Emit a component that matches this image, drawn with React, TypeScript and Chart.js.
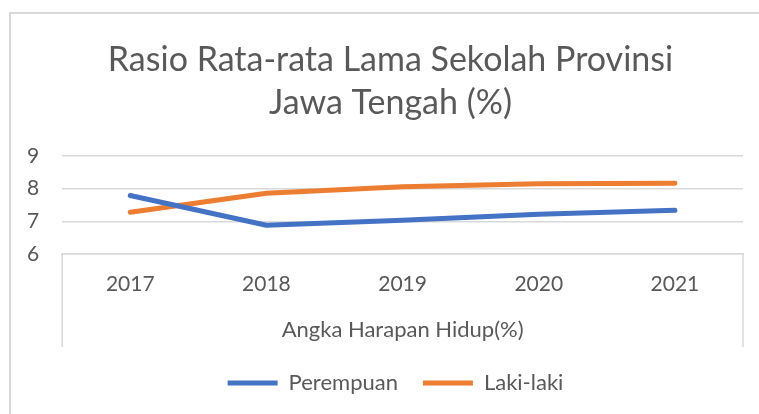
import React, { useEffect, useRef } from "react";
import { Chart, registerables } from "chart.js";

Chart.register(...registerables);

const categories = ["2017", "2018", "2019", "2020", "2021"];
const perempuan = [7.79, 6.88, 7.03, 7.22, 7.34];
const lakiLaki = [7.28, 7.86, 8.06, 8.15, 8.17];
const titleLines = ["Rasio Rata-rata Lama Sekolah Provinsi", "Jawa Tengah (%)"];
const xAxisTitle = "Angka Harapan Hidup(%)";

const FONT = "Lato";
const TEXT = "#595959";
const GRID = "#d9d9d9";

const framePlugin = {
  id: "frame",
  afterLayout(chart: any) {
    // Excel centres title and legend on the full (cropped) chart frame
    if (chart.titleBlock) {
      chart.titleBlock.left += 17;
      chart.titleBlock.right += 17;
    }
    if (chart.legend) {
      chart.legend.left += 22;
      chart.legend.right += 22;
    }
  },
  beforeDraw(chart: any) {
    const ctx = chart.ctx;
    ctx.save();
    ctx.fillStyle = "#ffffff";
    ctx.fillRect(0, 0, chart.width, chart.height);
    ctx.strokeStyle = GRID;
    ctx.lineWidth = 2;
    ctx.beginPath();
    ctx.moveTo(10, chart.height + 5);
    ctx.lineTo(10, 13);
    ctx.lineTo(chart.width + 5, 13);
    ctx.stroke();
    ctx.restore();
  },
  afterDraw(chart: any) {
    const ctx = chart.ctx;
    const area = chart.chartArea;
    const x = chart.scales.x;
    ctx.save();
    ctx.strokeStyle = GRID;
    ctx.lineWidth = 1.5;
    ctx.beginPath();
    ctx.moveTo(area.left, area.bottom);
    ctx.lineTo(area.left, x.bottom);
    ctx.moveTo(area.right, area.bottom);
    ctx.lineTo(area.right, x.bottom);
    ctx.stroke();
    ctx.restore();
  },
};

export default function App() {
  const ref = useRef<HTMLCanvasElement | null>(null);
  useEffect(() => {
    if (!ref.current) return;
    const chart = new Chart(ref.current, {
      type: "line",
      data: {
        labels: categories,
        datasets: [
          {
            label: "Perempuan",
            data: perempuan,
            borderColor: "#4472C4",
            backgroundColor: "#4472C4",
            borderWidth: 5,
            borderCapStyle: "round",
            borderJoinStyle: "round",
            pointRadius: 0,
            tension: 0,
          },
          {
            label: "Laki-laki",
            data: lakiLaki,
            borderColor: "#ED7D31",
            backgroundColor: "#ED7D31",
            borderWidth: 5,
            borderCapStyle: "round",
            borderJoinStyle: "round",
            pointRadius: 0,
            tension: 0,
          },
        ],
      },
      options: {
        animation: false,
        responsive: false,
        layout: { padding: { left: 4, right: 16, top: 0, bottom: 10 } },
        plugins: {
          title: {
            display: true,
            text: titleLines,
            color: TEXT,
            font: { family: FONT, size: 34, weight: "normal", lineHeight: 1.265 },
            padding: { top: 38.5, bottom: 31.5 },
          },
          legend: {
            position: "bottom",
            labels: {
              usePointStyle: true,
              pointStyle: "line",
              pointStyleWidth: 50,
              color: TEXT,
              padding: 25,
              font: { family: FONT, size: 22 },
            },
          },
          tooltip: { enabled: false },
        },
        scales: {
          y: {
            min: 6,
            max: 9,
            ticks: {
              stepSize: 1,
              color: TEXT,
              padding: 23,
              font: { family: FONT, size: 21 },
            },
            grid: { color: GRID, lineWidth: 1.5, drawTicks: false },
            border: { display: false },
          },
          x: {
            offset: true,
            ticks: {
              color: TEXT,
              padding: 18,
              font: { family: FONT, size: 21 },
            },
            grid: { display: false, drawTicks: false },
            border: { display: true, color: GRID, width: 1.5 },
            title: {
              display: true,
              text: xAxisTitle,
              color: TEXT,
              font: { family: FONT, size: 22 },
              padding: { top: 1.6, bottom: 3.8 },
            },
          },
        },
      },
      plugins: [framePlugin],
    });
    return () => chart.destroy();
  }, []);
  return (
    <div style={{ position: "fixed", left: 0, top: 0, width: 759, height: 414 }}>
      <canvas ref={ref} width={759} height={414} style={{ display: "block" }} />
    </div>
  );
}
